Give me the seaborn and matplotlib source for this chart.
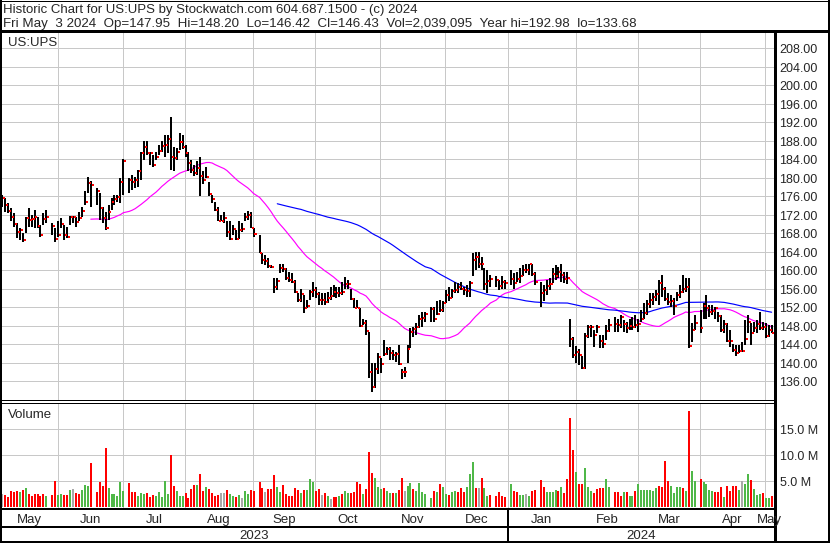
import numpy as np
import pandas as pd
import matplotlib
matplotlib.use("Agg")
import matplotlib.pyplot as plt
from matplotlib.lines import Line2D
import seaborn as sns

# ------------------------------------------------------------------ data
first_day = "2023-05-05"
last_day = "2024-05-03"
holidays = ["2023-05-29", "2023-06-19", "2023-07-04", "2023-09-04", "2023-11-23",
            "2023-12-25", "2024-01-01", "2024-01-15", "2024-02-19", "2024-03-29"]

close_ = [
    175.6, 174.1, 172.8, 171.5, 170.0, 168.2, 168.7, 166.5, 171.3, 170.8, 171.0, 171.4, 169.5, 167.6, 171.1, 171.5,
    169.5, 166.7, 167.6, 170.0, 167.6, 167.2, 171.4, 171.4, 170.4, 171.3, 172.8, 174.8, 178.9, 178.4,
    177.1, 173.3, 171.2, 169.1, 172.6, 174.6, 175.3, 175.8, 179.1, 183.6,
    179.5, 179.1, 179.5, 181.3, 185.2, 186.5, 185.2, 185.2, 182.6, 184.5,
    185.8, 186.8, 187.1, 188.3, 184.5, 184.3, 185.5, 187.7, 186.7, 185.4,
    183.2, 181.6, 181.0, 182.0, 180.4, 179.4, 180.2, 176.4, 175.4, 173.0,
    170.7, 170.7, 171.3, 168.3, 166.7, 168.8, 166.7, 168.7, 168.8, 171.5,
    172.0, 169.1, 167.7,
    163.7, 162.2, 162.0, 160.9, 160.7, 156.4, 157.6, 160.4, 160.2, 158.3,
    157.8, 157.5, 155.3, 153.5, 154.8, 151.7, 152.3, 155.2, 155.7, 154.8,
    153.5, 153.5, 153.0, 154.0, 154.3, 155.2, 155.1, 155.1, 155.2, 157.0,
    157.0, 153.7, 151.8, 151.8, 148.0, 148.5, 146.8, 138.0, 134.8, 138.6,
    141.1, 139.7, 141.8, 143.0, 142.0, 141.6, 141.8, 139.7, 138.0, 138.0,
    143.0, 146.5, 147.2, 147.7, 149.5, 149.6, 150.5,
    151.5, 149.4, 150.5, 151.3, 152.8, 154.7, 153.9, 155.5, 155.6, 156.4,
    155.8, 155.6, 155.4, 157.1, 162.2, 162.9, 161.3, 161.3, 156.9, 157.6,
    158.0,
    157.8, 156.5, 157.3, 157.1,
    158.1, 157.1, 158.1, 158.7, 159.9, 159.9, 161.2, 159.1, 157.5,
    155.0, 155.7, 156.6, 156.9, 159.1, 158.7, 159.6, 158.9, 158.0, 158.2,
    145.0, 141.7, 142.3, 141.6, 138.9, 145.8, 147.7, 147.7, 145.95, 147.7,
    144.65, 144.0, 146.8, 148.1,
    148.25, 148.1, 149.9, 148.3, 147.4, 147.96, 147.7, 148.1, 148.25, 149.4,
    150.6, 152.6, 153.5, 154.1, 154.74, 157.26, 155.8, 153.66, 153.15, 153.3,
    152.2, 154.6, 155.3, 156.0, 156.4, 143.6, 147.0, 148.5,
    147.5, 152.3, 151.7, 151.0, 151.1, 151.7, 150.1, 147.0, 148.25, 144.65,
    144.65, 142.7, 142.0, 142.5, 142.5, 145.1, 148.8, 146.3, 147.5, 148.25,
    147.5, 147.7, 145.7, 147.0, 146.43,
]

high_ = [
    176.2, 175.5, 174.4, 173.3, 172.3, 170.1, 169.0, 167.9, 171.5, 173.3, 171.9, 173.0, 171.5, 169.7, 172.3, 173.0,
    170.1, 169.0, 170.5, 171.2, 169.7, 169.4, 171.7, 171.7, 171.5, 172.6, 173.7, 177.0, 180.2, 179.3,
    177.7, 176.6, 173.7, 172.6, 174.1, 175.5, 176.2, 176.2, 179.8, 184.1,
    179.8, 180.5, 180.2, 181.6, 185.6, 187.8, 187.8, 185.6, 184.9, 185.6,
    187.0, 187.8, 189.2, 189.2, 192.98, 186.7, 186.3, 189.6, 189.2, 187.0,
    185.6, 183.8, 182.6, 183.5, 184.5, 181.3, 182.3, 179.1, 176.2, 174.8,
    173.7, 171.9, 172.6, 170.5, 170.5, 169.7, 168.6, 170.5, 170.1, 172.3,
    172.8, 172.6, 169.0,
    167.6, 163.6, 163.2, 162.5, 161.1, 158.2, 158.2, 161.4, 161.3, 160.4,
    159.6, 159.4, 157.8, 155.0, 156.0, 154.6, 153.5, 155.7, 157.5, 156.4,
    155.3, 155.0, 155.0, 155.3, 156.4, 156.7, 156.4, 156.4, 157.5, 158.5,
    157.8, 156.0, 153.9, 153.5, 151.7, 149.5, 149.2, 146.7, 139.8, 139.8,
    142.0, 140.9, 144.9, 143.4, 143.4, 142.7, 142.3, 143.8, 138.7, 139.1,
    143.8, 147.4, 147.7, 148.5, 150.3, 151.0, 151.0,
    152.0, 152.1, 153.2, 153.5, 153.2, 155.7, 156.4, 156.0, 157.5, 157.1,
    157.5, 156.4, 156.8, 157.6, 163.6, 164.0, 164.0, 162.9, 160.4, 160.0,
    158.9,
    158.6, 157.8, 158.6, 157.8,
    160.0, 159.3, 159.6, 160.4, 161.1, 161.4, 161.4, 161.4, 159.6,
    157.5, 156.8, 157.8, 158.2, 160.4, 161.1, 160.7, 161.4, 159.6, 159.6,
    149.4, 145.5, 143.5, 143.0, 141.5, 146.3, 148.1, 148.1, 147.0, 148.1,
    146.0, 146.0, 148.1, 149.5,
    149.9, 149.5, 150.3, 149.2, 148.8, 149.5, 149.9, 150.3, 149.5, 151.4,
    152.8, 153.5, 155.0, 155.0, 155.7, 157.8, 158.9, 156.4, 155.0, 154.6,
    153.9, 155.3, 156.8, 158.9, 158.2, 158.2, 148.5, 150.3,
    151.4, 152.8, 154.5, 152.4, 152.4, 152.1, 151.0, 150.3, 149.2, 148.5,
    147.0, 144.1, 143.8, 143.8, 144.5, 149.2, 150.3, 148.5, 148.8, 149.2,
    151.0, 148.8, 148.5, 148.1, 148.2,
]

low_ = [
    173.7, 172.6, 172.3, 170.5, 169.4, 166.9, 166.5, 166.0, 168.0, 169.4, 169.4, 169.0, 169.0, 167.2, 169.7, 170.1,
    167.6, 166.1, 167.2, 169.0, 166.5, 166.9, 169.7, 170.1, 169.4, 170.5, 171.5, 174.1, 176.6, 173.7,
    174.1, 170.8, 170.1, 168.7, 170.8, 173.0, 174.1, 174.8, 174.4, 176.2,
    176.6, 177.3, 177.7, 178.0, 179.5, 183.8, 184.9, 182.7, 182.3, 183.8,
    184.9, 185.6, 184.5, 185.2, 181.6, 181.3, 183.8, 186.0, 186.2, 184.5,
    181.3, 180.9, 180.4, 180.5, 175.9, 178.7, 180.0, 175.9, 174.4, 172.8,
    170.5, 170.5, 170.1, 167.2, 166.5, 167.6, 166.5, 166.8, 168.3, 170.5,
    170.8, 169.0, 167.2,
    163.6, 161.4, 161.1, 160.4, 160.4, 155.0, 155.7, 159.3, 159.6, 157.8,
    157.5, 157.1, 155.0, 153.1, 153.1, 150.6, 151.7, 153.5, 154.2, 153.9,
    152.4, 152.4, 152.4, 152.8, 153.5, 154.2, 153.9, 154.2, 154.6, 156.0,
    156.0, 153.5, 151.7, 151.7, 147.7, 148.1, 145.9, 136.6, 133.68, 134.4,
    137.6, 137.7, 141.3, 141.6, 140.5, 140.5, 140.2, 139.5, 136.4, 136.9,
    139.8, 143.1, 145.6, 145.9, 147.4, 147.7, 148.8,
    148.8, 148.8, 150.3, 151.0, 151.0, 152.8, 153.2, 153.9, 155.0, 155.0,
    155.7, 154.6, 154.2, 154.2, 158.6, 160.0, 160.5, 160.0, 155.7, 155.0,
    156.4,
    156.4, 155.7, 156.0, 156.0,
    156.8, 156.0, 157.5, 157.1, 158.6, 159.3, 158.9, 158.6, 156.8,
    152.1, 153.2, 154.6, 155.7, 157.1, 157.8, 158.2, 157.5, 157.1, 157.0,
    143.4, 141.0, 139.8, 139.5, 138.5, 138.7, 145.2, 145.6, 143.4, 146.3,
    143.1, 143.1, 144.9, 146.7,
    146.7, 146.7, 147.4, 146.7, 146.3, 147.0, 147.0, 147.4, 146.7, 148.8,
    149.5, 150.3, 151.7, 152.4, 153.2, 152.4, 154.2, 153.2, 152.4, 152.1,
    150.3, 153.2, 153.9, 155.0, 155.3, 143.1, 144.5, 147.0,
    146.3, 149.5, 149.5, 149.9, 150.3, 149.5, 148.8, 146.7, 146.3, 144.5,
    143.4, 142.3, 141.3, 142.0, 142.3, 143.8, 146.3, 143.8, 146.7, 146.3,
    147.0, 147.0, 145.2, 145.6, 146.42,
]

volume_m = [
    2.4, 2.2, 1.8, 3.0, 2.8, 3.0, 2.8, 3.2, 3.6, 2.4, 2.0, 2.4, 2.4, 2.0, 2.4, 2.0,
    2.2, 4.9, 2.2, 2.4, 2.2, 2.2, 3.2, 3.4, 2.6, 2.4, 3.2, 4.2, 4.0, 8.4,
    2.8, 4.7, 4.0, 11.3, 3.6, 2.4, 2.4, 2.0, 4.7, 3.0,
    4.5, 2.8, 2.8, 2.0, 2.6, 2.4, 2.6, 1.8, 2.2, 2.0,
    2.8, 1.8, 4.9, 2.5, 9.9, 4.0, 3.0, 2.0, 2.0, 2.6,
    1.7, 3.4, 4.2, 4.2, 6.3, 3.0, 3.8, 3.4, 2.6, 2.0,
    2.2, 2.6, 2.6, 3.2, 2.4, 2.0, 1.8, 2.2, 1.7, 3.0,
    2.4, 3.2, 3.0,
    4.7, 3.6, 2.8, 3.4, 3.4, 6.1, 3.8, 2.8, 4.2, 2.4,
    2.0, 2.0, 3.6, 3.2, 2.6, 3.2, 3.2, 5.3, 4.7, 3.0,
    3.4, 2.2, 2.6, 2.0, 1.5, 1.8, 1.8, 2.0, 2.4, 3.0,
    2.6, 2.6, 2.8, 4.7, 4.3, 2.4, 3.4, 10.5, 6.4, 5.5,
    3.8, 3.4, 3.6, 3.0, 2.6, 2.6, 2.6, 3.2, 5.5, 3.0,
    4.0, 4.6, 3.3, 3.0, 4.6, 2.8, 2.4,
    1.7, 3.0, 2.8, 4.3, 3.7, 2.4, 2.2, 2.8, 3.0, 2.8,
    3.5, 2.8, 3.7, 6.3, 8.5, 3.6, 3.6, 5.5, 3.6, 2.0,
    2.2,
    2.0, 2.8, 2.0, 1.8,
    4.3, 3.0, 2.8, 2.2, 2.2, 2.4, 2.0, 3.0, 3.2,
    5.1, 3.8, 2.8, 2.8, 2.8, 3.2, 3.0, 3.8, 2.6, 5.3,
    17.0, 10.9, 6.6, 4.3, 4.3, 7.4, 3.8, 3.0, 2.6, 3.3,
    3.6, 3.6, 5.3, 3.8,
    2.8, 2.8, 2.0, 2.8, 2.8, 2.0, 2.0, 3.0, 4.3, 3.2,
    3.2, 3.2, 3.2, 3.0, 3.6, 4.0, 3.8, 8.7, 4.9, 4.0,
    2.6, 3.8, 3.8, 3.6, 3.0, 18.4, 6.8, 4.9,
    5.3, 4.7, 4.3, 3.2, 3.0, 2.8, 2.8, 3.8, 1.8, 4.0,
    3.0, 4.0, 4.0, 3.2, 4.9, 4.3, 6.3, 5.1, 3.3, 2.2,
    2.4, 2.6, 1.7, 1.7, 2.04,
]

volume_dir = (
    "k r r r r r g r g r r r r r r g "
    "r r g g r r g k r r g g g r "
    "r r r r g g g g g g "
    "r r r g g g r r r g "
    "g g g g r r g g g r "
    "r r r g r r g r r r "
    "r k k r g g r g k g "
    "g r r "
    "r r k r r r g g r r "
    "r r r r g r g g g r "
    "r k r g k r r g r g "
    "g r r r r g r r r g "
    "g g r g g r g r r k "
    "g g r g g g g "
    "g r g r g g r g g r "
    "r r g g g r k r g g "
    "r "
    "r r r r "
    "g r r g g k g r r "
    "r r g g g g r g r r "
    "r r g r r g g g r r "
    "r r g g "
    "r r r g r g g r g g "
    "g g g g g r r r r g "
    "g g g r g r g g "
    "r g g g g r r r g r "
    "r r r g k g g r g g "
    "g r g g r"
).split()

price_ticks = [136, 140, 144, 148, 152, 156, 160, 164, 168, 172, 176, 180,
               184, 188, 192, 196, 200, 204, 208]
volume_ticks = [5, 10, 15]
volume_tick_labels = ["5.0 M", "10.0 M", "15.0 M"]
month_names = ["May", "Jun", "Jul", "Aug", "Sep", "Oct", "Nov", "Dec",
               "Jan", "Feb", "Mar", "Apr", "May"]
year_labels = ["2023", "2024"]
symbol = "US:UPS"
header_1 = "Historic Chart for US:UPS by Stockwatch.com 604.687.1500 - (c) 2024"
header_2 = ("Fri May  3 2024  Op=147.95  Hi=148.20  Lo=146.42  Cl=146.43  "
            "Vol=2,039,095  Year hi=192.98  lo=133.68")
ma_short, ma_long = 30, 90

# ------------------------------------------------------------------ frame
slots = pd.bdate_range(first_day, last_day)
is_trade = ~slots.isin(pd.to_datetime(holidays))
slot_idx = np.arange(len(slots))

df = pd.DataFrame({
    "x": slot_idx[is_trade],
    "high": high_, "low": low_, "close": close_,
    "vol": volume_m, "dir": volume_dir,
})
df["ma_s"] = df["close"].rolling(ma_short).mean()
df["ma_l"] = df["close"].rolling(ma_long).mean()

# ------------------------------------------------------------------ style
sns.set_theme(style="white")
plt.rcParams["font.family"] = ["Liberation Sans", "DejaVu Sans"]

W, H = 830, 543
fig = plt.figure(figsize=(W / 100, H / 100), dpi=100)
fig.patch.set_facecolor("white")

PX0, PXS = 2.0, 2.96           # pixel of slot 0, pixels per slot
AX_L, AX_R = 1, 774


def rect(x0, y0, x1, y1):
    return [x0 / W, 1 - y1 / H, (x1 - x0) / W, (y1 - y0) / H]


def slot_to_px(s):
    return PX0 + PXS * s


xlim = ((AX_L - PX0) / PXS, (AX_R - PX0) / PXS)
grid_c = "#c8c8c8"
PT = 0.72  # points per pixel

# month boundaries (first weekday of each month in the slot range)
month_start = [i for i in range(1, len(slots)) if slots[i].month != slots[i - 1].month]
grid_slots = [s - 0.17 for s in month_start]

# ------------------------------------------------------------------ price panel
ax_p = fig.add_axes(rect(AX_L, 32, AX_R, 399.5))
ax_p.set_xlim(*xlim)
ax_p.set_ylim(208 - (399.5 - 48) / 4.625, 208 + (48 - 32) / 4.625)
for t in price_ticks:
    ax_p.axhline(t, color=grid_c, lw=PT, zorder=0)
for g in grid_slots:
    ax_p.axvline(g, color=grid_c, lw=PT, zorder=0)

sns.lineplot(data=df, x="x", y="ma_s", color="#ff00ff", lw=0.85, ax=ax_p, zorder=2)
sns.lineplot(data=df, x="x", y="ma_l", color="#0000ff", lw=0.85, ax=ax_p, zorder=2)

ax_p.vlines(df["x"], df["low"], df["high"], color="black", lw=2 * PT, zorder=3,
            antialiased=False)
ax_p.hlines(df["close"], df["x"] + 0.3, df["x"] + 0.98, color="#ff0000",
            lw=2 * PT, zorder=4, antialiased=False)

# ------------------------------------------------------------------ volume panel
ax_v = fig.add_axes(rect(AX_L, 403, AX_R, 508))
for t in volume_ticks:
    ax_v.axhline(t, color=grid_c, lw=PT, zorder=0)
for g in grid_slots:
    ax_v.axvline(g, color=grid_c, lw=PT, zorder=0)
sns.barplot(data=df, x="x", y="vol", hue="dir",
            palette={"r": "#ff0000", "g": "#4fb848", "k": "#a9a9a9"},
            native_scale=True, width=0.68, dodge=False, legend=False,
            errorbar=None, saturation=1, linewidth=0, ax=ax_v, zorder=2)
ax_v.set_xlim(*xlim)
ax_v.set_ylim(-(508 - 506.5) / 5.2, (506.5 - 403) / 5.2)

for ax in (ax_p, ax_v):
    ax.set_xticks([])
    ax.set_yticks([])
    ax.set_xlabel("")
    ax.set_ylabel("")
    for sp in ax.spines.values():
        sp.set_visible(False)
    ax.patch.set_alpha(0)

# ------------------------------------------------------------------ overlay (pixel coords)
ov = fig.add_axes([0, 0, 1, 1])
ov.set_xlim(0, W)
ov.set_ylim(H, 0)
ov.axis("off")
ov.patch.set_alpha(0)


def line(xs, ys, w):
    ov.add_line(Line2D(xs, ys, color="black", lw=w * PT, solid_capstyle="butt"))


line([1, 1], [0, H], 2)                 # outer frame
line([W - 1, W - 1], [0, H], 2)
line([0, W], [0.5, 0.5], 1)
line([0, W], [H - 1, H - 1], 2)
line([0, W], [31, 31], 3)               # header separator
line([774.5, 774.5], [31, H], 3)        # right axis line
line([0, 774], [400, 400], 1)           # double separator
line([0, 774], [402.5, 402.5], 1)
line([0, 774], [509, 509], 2)           # volume bottom
line([0, 774], [527, 527], 2)           # month row bottom

jan_px = slot_to_px(grid_slots[7])
line([jan_px, jan_px], [509, H], 2)      # year boundary

FS = 9.5
ov.text(3, 12.7, header_1, fontsize=FS, va="baseline", ha="left")
ov.text(3, 26.7, header_2, fontsize=9.6, va="baseline", ha="left")
ov.text(8, 46, symbol, fontsize=FS, va="baseline", ha="left")
ov.text(8, 418.3, "Volume", fontsize=FS, va="baseline", ha="left")

for t in price_ticks:
    y = 48 + (208 - t) * 4.625
    ov.text(779.5, y + 5.3, f"{t:.2f}", fontsize=9.0, va="baseline", ha="left")
for t, lab in zip(volume_ticks, volume_tick_labels):
    y = 506.5 - 5.2 * t
    ov.text(779.5, y + 5.3, lab, fontsize=9.0, va="baseline", ha="left")

bounds = [AX_L] + [slot_to_px(g) for g in grid_slots] + [AX_R]
for name, a, b in zip(month_names, bounds[:-1], bounds[1:]):
    ov.text((a + b) / 2, 523.3, name, fontsize=FS, va="baseline", ha="center")
ov.text((AX_L + jan_px) / 2, 539.3, year_labels[0], fontsize=FS, va="baseline", ha="center")
ov.text((jan_px + AX_R) / 2, 539.3, year_labels[1], fontsize=FS, va="baseline", ha="center")

fig.savefig("out.png", dpi=100, facecolor="white")
